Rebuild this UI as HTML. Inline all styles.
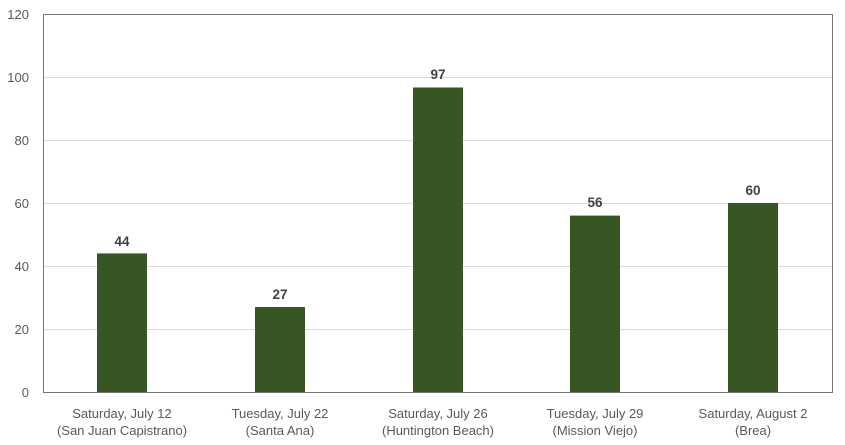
<!DOCTYPE html>
<html><head><style>body{margin:0;background:#fff}svg{display:block;font-family:"Liberation Sans",sans-serif}</style></head>
<body>
<svg width="845" height="445" xmlns="http://www.w3.org/2000/svg">
<g stroke="#d9d9d9" stroke-width="1">
<line x1="43" x2="832" y1="77.5" y2="77.5"/>
<line x1="43" x2="832" y1="140.5" y2="140.5"/>
<line x1="43" x2="832" y1="203.5" y2="203.5"/>
<line x1="43" x2="832" y1="266.5" y2="266.5"/>
<line x1="43" x2="832" y1="329.5" y2="329.5"/>
<line x1="43" x2="832" y1="392.5" y2="392.5"/>
</g>
<rect x="43.5" y="14.5" width="789" height="378" fill="none" stroke="#767676" stroke-width="1"/>
<g fill="#375623">
<rect x="97" y="253.4" width="50" height="138.6"/>
<rect x="255" y="307" width="50" height="85"/>
<rect x="413" y="87.5" width="50" height="304.5"/>
<rect x="570" y="215.6" width="50" height="176.4"/>
<rect x="728" y="203" width="50" height="189"/>
</g>
<g fill="#595959" font-size="13" text-anchor="end">
<text x="29" y="19">120</text><text x="29" y="82">100</text><text x="29" y="145">80</text>
<text x="29" y="208">60</text><text x="29" y="271">40</text><text x="29" y="334">20</text><text x="29" y="397">0</text>
</g>
<g fill="#404040" font-size="13.5" font-weight="bold" text-anchor="middle">
<text x="122" y="246">44</text><text x="280" y="299">27</text><text x="438" y="79">97</text>
<text x="595" y="207">56</text><text x="753" y="195">60</text>
</g>
<g fill="#595959" font-size="13" text-anchor="middle">
<text x="122" y="418">Saturday, July 12</text><text x="122" y="435">(San Juan Capistrano)</text>
<text x="280" y="418">Tuesday, July 22</text><text x="280" y="435">(Santa Ana)</text>
<text x="438" y="418">Saturday, July 26</text><text x="438" y="435">(Huntington Beach)</text>
<text x="595" y="418">Tuesday, July 29</text><text x="595" y="435">(Mission Viejo)</text>
<text x="753" y="418">Saturday, August 2</text><text x="753" y="435">(Brea)</text>
</g>
</svg>
</body></html>
